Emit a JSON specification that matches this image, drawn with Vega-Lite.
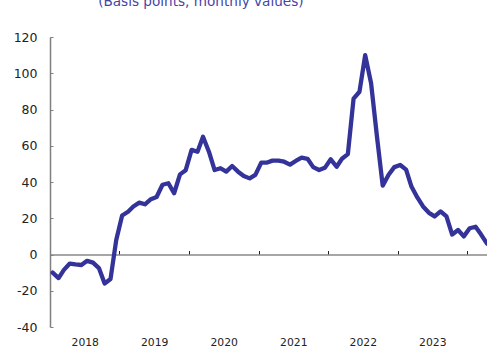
{
  "$schema": "https://vega.github.io/schema/vega-lite/v6.json",
  "width": 437,
  "height": 290,
  "autosize": {"type": "none"},
  "padding": {"left": 50, "top": 37, "right": 0, "bottom": 22},
  "background": "white",
  "config": {"view": {"stroke": null}, "font": "DejaVu Sans"},
  "title": {
    "text": "(Basis points, monthly values)",
    "anchor": "start",
    "dx": 85,
    "offset": 11,
    "baseline": "alphabetic",
    "fontSize": 13.6,
    "fontWeight": "normal",
    "color": "#4545a5"
  },
  "data": {
    "values": [
      {"date": "2018/01/15", "value": -10},
      {"date": "2018/02/15", "value": -13},
      {"date": "2018/03/15", "value": -8.5},
      {"date": "2018/04/15", "value": -5},
      {"date": "2018/05/15", "value": -5.5},
      {"date": "2018/06/15", "value": -5.8},
      {"date": "2018/07/15", "value": -3.5},
      {"date": "2018/08/15", "value": -4.5},
      {"date": "2018/09/15", "value": -7.5},
      {"date": "2018/10/15", "value": -16},
      {"date": "2018/11/15", "value": -13.5},
      {"date": "2018/12/15", "value": 8},
      {"date": "2019/01/15", "value": 21.5},
      {"date": "2019/02/15", "value": 23.6},
      {"date": "2019/03/15", "value": 26.5},
      {"date": "2019/04/15", "value": 28.6},
      {"date": "2019/05/15", "value": 27.7},
      {"date": "2019/06/15", "value": 30.5},
      {"date": "2019/07/15", "value": 31.7},
      {"date": "2019/08/15", "value": 38.5},
      {"date": "2019/09/15", "value": 39.3},
      {"date": "2019/10/15", "value": 33.8},
      {"date": "2019/11/15", "value": 44.2},
      {"date": "2019/12/15", "value": 46.5},
      {"date": "2020/01/15", "value": 57.7},
      {"date": "2020/02/15", "value": 56.7},
      {"date": "2020/03/15", "value": 65},
      {"date": "2020/04/15", "value": 56.7},
      {"date": "2020/05/15", "value": 46.6},
      {"date": "2020/06/15", "value": 47.6},
      {"date": "2020/07/15", "value": 45.7},
      {"date": "2020/08/15", "value": 48.8},
      {"date": "2020/09/15", "value": 45.7},
      {"date": "2020/10/15", "value": 43.3},
      {"date": "2020/11/15", "value": 42},
      {"date": "2020/12/15", "value": 43.9},
      {"date": "2021/01/15", "value": 50.7},
      {"date": "2021/02/15", "value": 50.7},
      {"date": "2021/03/15", "value": 51.8},
      {"date": "2021/04/15", "value": 51.8},
      {"date": "2021/05/15", "value": 51.2},
      {"date": "2021/06/15", "value": 49.6},
      {"date": "2021/07/15", "value": 51.6},
      {"date": "2021/08/15", "value": 53.4},
      {"date": "2021/09/15", "value": 52.8},
      {"date": "2021/10/15", "value": 48.2},
      {"date": "2021/11/15", "value": 46.6},
      {"date": "2021/12/15", "value": 47.8},
      {"date": "2022/01/15", "value": 52.5},
      {"date": "2022/02/15", "value": 48.4},
      {"date": "2022/03/15", "value": 52.8},
      {"date": "2022/04/15", "value": 55.4},
      {"date": "2022/05/15", "value": 86},
      {"date": "2022/06/15", "value": 89.8},
      {"date": "2022/07/15", "value": 110},
      {"date": "2022/08/15", "value": 94.5},
      {"date": "2022/09/15", "value": 65},
      {"date": "2022/10/15", "value": 38},
      {"date": "2022/11/15", "value": 44},
      {"date": "2022/12/15", "value": 48.2},
      {"date": "2023/01/15", "value": 49.4},
      {"date": "2023/02/15", "value": 46.8},
      {"date": "2023/03/15", "value": 37.5},
      {"date": "2023/04/15", "value": 31.5},
      {"date": "2023/05/15", "value": 26.5},
      {"date": "2023/06/15", "value": 23},
      {"date": "2023/07/15", "value": 21},
      {"date": "2023/08/15", "value": 23.8},
      {"date": "2023/09/15", "value": 21},
      {"date": "2023/10/15", "value": 11},
      {"date": "2023/11/15", "value": 13.5},
      {"date": "2023/12/15", "value": 10},
      {"date": "2024/01/15", "value": 14.5},
      {"date": "2024/02/15", "value": 15.3},
      {"date": "2024/03/15", "value": 11},
      {"date": "2024/04/15", "value": 6}
    ]
  },
  "mark": {
    "type": "line",
    "color": "#333399",
    "strokeWidth": 4.3,
    "strokeJoin": "round",
    "strokeCap": "round",
    "clip": true
  },
  "encoding": {
    "x": {
      "field": "date",
      "type": "temporal",
      "scale": {
        "domain": [
          {"year": 2018, "month": 1, "date": 1},
          {"year": 2024, "month": 4, "date": 15}
        ]
      },
      "axis": {
        "values": [
          {"year": 2018, "month": 1, "date": 1},
          {"year": 2019, "month": 1, "date": 1},
          {"year": 2020, "month": 1, "date": 1},
          {"year": 2021, "month": 1, "date": 1},
          {"year": 2022, "month": 1, "date": 1},
          {"year": 2023, "month": 1, "date": 1},
          {"year": 2024, "month": 1, "date": 1}
        ],
        "offset": -72.5,
        "domainColor": "#888888",
        "domainWidth": 1.3,
        "tickColor": "#222222",
        "tickSize": -4,
        "tickWidth": 1,
        "labelOffset": 34.75,
        "labelPadding": 86,
        "labelExpr": "year(datum.value) < 2024 ? timeFormat(datum.value, '%Y') : ''",
        "labelFontSize": 10.8,
        "labelColor": "#222222",
        "labelFlush": false,
        "labelOverlap": false,
        "labelBound": false,
        "grid": false,
        "title": null
      }
    },
    "y": {
      "field": "value",
      "type": "quantitative",
      "scale": {"domain": [-40, 120], "nice": false, "zero": false},
      "axis": {
        "values": [-40, -20, 0, 20, 40, 60, 80, 100, 120],
        "labelExpr": "'' + datum.value",
        "domainColor": "#7f7f7f",
        "domainWidth": 1.5,
        "tickColor": "#7f7f7f",
        "tickSize": -3,
        "labelPadding": 16,
        "labelFontSize": 12.5,
        "labelColor": "#222222",
        "grid": false,
        "title": null
      }
    }
  }
}
